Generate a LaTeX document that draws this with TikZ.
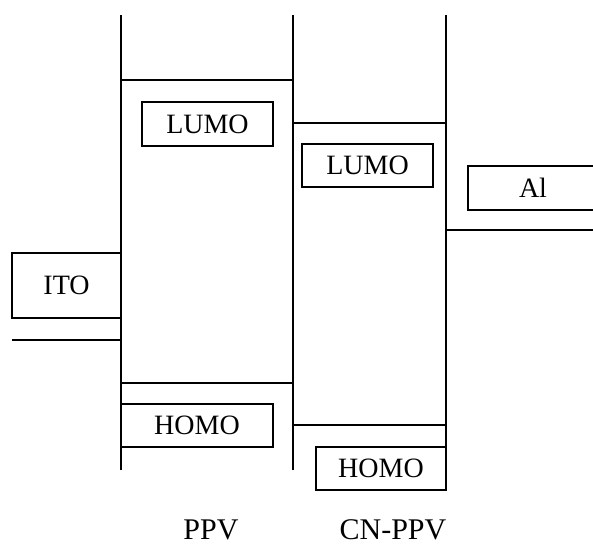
\documentclass[tikz,border=0pt]{standalone}
\usepackage{fontspec}
\setmainfont{Liberation Serif}
\begin{document}
\begin{tikzpicture}[x=1pt,y=-1pt,line width=1.5pt,
  level/.style={line width=1.5pt},
  box/.style={draw,line width=1.5pt,inner sep=0pt,font=\fontsize{28}{32}\selectfont},
  lbl/.style={inner sep=0pt,font=\fontsize{28}{32}\selectfont},
  caption/.style={inner sep=0pt,font=\fontsize{30}{34}\selectfont}]
\useasboundingbox (0,0) rectangle (593,547);
% column boundaries
\draw (121,15) -- (121,470);
\draw (293,15) -- (293,470);
\draw (446,15) -- (446,490);
% energy levels
\draw[level] (121,80) -- (293,80);
\draw[level] (293,123) -- (446,123);
\draw[level] (446,230) -- (593,230);
\draw[level] (12,340) -- (121,340);
\draw[level] (121,383) -- (293,383);
\draw[level] (293,425) -- (446,425);
% boxes
\node[box,minimum width=131pt,minimum height=44pt] (lumoA) at (207.5,124) {LUMO};
\node[box,minimum width=131pt,minimum height=43pt] (lumoB) at (367.5,165.5) {LUMO};
\node[lbl] (al) at (533,188) {Al};
\draw (593,166) -| (468,210) -- (593,210);
\node[box,minimum width=109pt,minimum height=65pt] (ito) at (66.5,285.5) {ITO};
\node[box,minimum width=152pt,minimum height=43pt] (homoA) at (197,425.5) {HOMO};
\node[box,minimum width=130pt,minimum height=43pt] (homoB) at (381,468.5) {HOMO};
% captions
\node[caption] (ppv) at (211,530) {PPV};
\node[caption] (cnppv) at (393,530) {CN-PPV};
\end{tikzpicture}
\end{document}
